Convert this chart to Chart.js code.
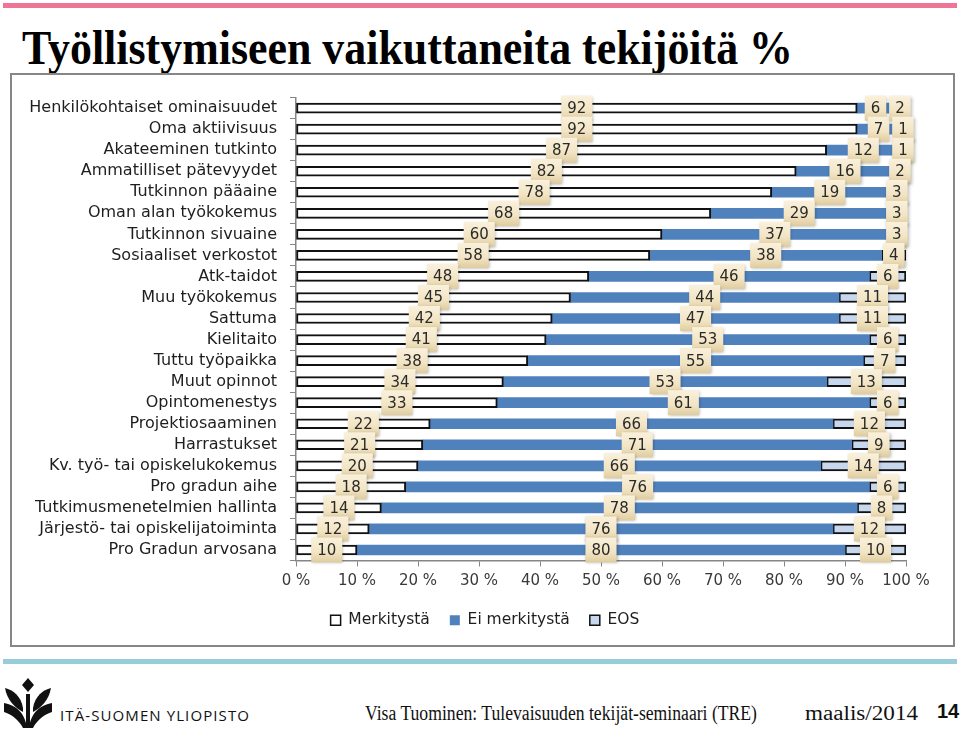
<!DOCTYPE html>
<html>
<head>
<meta charset="utf-8">
<script src="https://cdn.jsdelivr.net/npm/chart.js@4.4.0/dist/chart.umd.min.js"></script>
<style>
  html, body { margin: 0; padding: 0; background: #fff; }
  body { width: 960px; height: 730px; position: relative; overflow: hidden; }
  .abs { position: absolute; white-space: nowrap; line-height: 1; }
  #topline { left: 3px; top: 3px; width: 954px; height: 5px; background: #EE7595; }
  #title { left: 22px; top: 20px; font: bold 48px "Liberation Serif", serif; color: #000; transform-origin: 0 0; }
  #frame { left: 10px; top: 73px; width: 941px; height: 570px; border: 2px solid #868686; }
  #chartBox { left: 12px; top: 75px; width: 940px; height: 568px; }
  #bottomline { left: 3px; top: 659px; width: 954px; height: 5px; background: #97CDD7; }
  #uni { left: 60px; top: 705px; font: 15px "Open Sans", sans-serif; letter-spacing: 1.1px; color: #111; }
  #presenter { left: 365px; top: 702px; font: 20px "Liberation Serif", serif; color: #111; transform-origin: 0 0; }
  #date { left: 805px; top: 702px; font: 20px "Liberation Serif", serif; color: #111; transform-origin: 0 0; }
  #page { left: 937px; top: 700px; font: bold 20px "Liberation Sans Narrow", "Liberation Sans", sans-serif; color: #111; }
</style>
</head>
<body>
<div id="topline" class="abs"></div>
<div id="title" class="abs">Työllistymiseen vaikuttaneita tekijöitä %</div>
<div id="frame" class="abs"></div>
<div id="chartBox" class="abs"><canvas id="factorsChart" width="940" height="568"></canvas></div>
<div id="bottomline" class="abs"></div>
<svg class="abs" style="left:3px;top:678px" width="50" height="52" viewBox="0 0 50 52">
  <path d="M25 0 L31 7 L25 14 L19 7 Z" fill="#111"/>
  <path d="M2 10 C10 12 18 18 20 30 L20 34 C12 30 4 22 2 10 Z" fill="#111"/>
  <path d="M48 10 C40 12 32 18 30 30 L30 34 C38 30 46 22 48 10 Z" fill="#111"/>
  <path d="M1 25 C12 27 22 34 24 50 L20 50 C16 42 8 36 1 34 Z" fill="#111"/>
  <path d="M49 25 C38 27 28 34 26 50 L30 50 C34 42 42 36 49 34 Z" fill="#111"/>
  <path d="M23 16 L27 16 L27 50 L23 50 Z" fill="#111"/>
</svg>
<div id="uni" class="abs">ITÄ-SUOMEN YLIOPISTO</div>
<div id="presenter" class="abs">Visa Tuominen: Tulevaisuuden tekijät-seminaari (TRE)</div>
<div id="date" class="abs">maalis/2014</div>
<div id="page" class="abs">14</div>

<script>
// Työllistymiseen vaikuttaneita tekijöitä - 100 % stacked bar chart

const categories = [
  'Henkilökohtaiset ominaisuudet', 'Oma aktiivisuus', 'Akateeminen tutkinto',
  'Ammatilliset pätevyydet', 'Tutkinnon pääaine', 'Oman alan työkokemus',
  'Tutkinnon sivuaine', 'Sosiaaliset verkostot', 'Atk-taidot', 'Muu työkokemus',
  'Sattuma', 'Kielitaito', 'Tuttu työpaikka', 'Muut opinnot', 'Opintomenestys',
  'Projektiosaaminen', 'Harrastukset', 'Kv. työ- tai opiskelukokemus',
  'Pro gradun aihe', 'Tutkimusmenetelmien hallinta',
  'Järjestö- tai opiskelijatoiminta', 'Pro Gradun arvosana'
];
const merkitysta   = [92, 92, 87, 82, 78, 68, 60, 58, 48, 45, 42, 41, 38, 34, 33, 22, 21, 20, 18, 14, 12, 10];
const eiMerkitysta = [6, 7, 12, 16, 19, 29, 37, 38, 46, 44, 47, 53, 55, 53, 61, 66, 71, 66, 76, 78, 76, 80];
const eos          = [2, 1, 1, 2, 3, 3, 3, 4, 6, 11, 11, 6, 7, 13, 6, 12, 9, 14, 6, 8, 12, 10];
const seriesNames = ['Merkitystä', 'Ei merkitystä', 'EOS'];

const colors = {
  white: '#FFFFFF',
  blue: '#4F81BD',
  lightBlue: '#C7D8EE',
  border: '#111111',
  axis: '#868686',
  text: '#1E1E1E',
};
const chartFont = '"DejaVu Sans", sans-serif';

// 100 % stacked: each row is scaled to its own total
const rowTotals = categories.map((_, i) => merkitysta[i] + eiMerkitysta[i] + eos[i]);
const share = arr => arr.map((v, i) => v / rowTotals[i] * 100);

// Fit slide texts to the width they have on the slide
function squeeze(id, targetWidth) {
  const el = document.getElementById(id);
  const w = el.getBoundingClientRect().width;
  el.style.transform = 'scaleX(' + (targetWidth / w) + ')';
}
squeeze('title', 771);
squeeze('presenter', 392);
squeeze('date', 113);

// Beige value boxes in the middle of each segment
const valueBoxes = {
  id: 'valueBoxes',
  afterDatasetsDraw(chart) {
    const ctx = chart.ctx;
    const raw = [merkitysta, eiMerkitysta, eos];
    ctx.save();
    ctx.font = '15px ' + chartFont;
    ctx.textAlign = 'center';
    ctx.textBaseline = 'middle';
    chart.data.datasets.forEach((ds, di) => {
      const meta = chart.getDatasetMeta(di);
      meta.data.forEach((bar, i) => {
        const text = String(raw[di][i]);
        const cx = (bar.x + bar.base) / 2;
        const cy = bar.y;
        const w = ctx.measureText(text).width + 12;
        const h = 25;
        const x0 = cx - w / 2, y0 = cy - h / 2;
        const grad = ctx.createLinearGradient(0, y0, 0, y0 + h);
        grad.addColorStop(0, '#FAF1DC');
        grad.addColorStop(0.6, '#F2E4C3');
        grad.addColorStop(1, '#DFCC9F');
        ctx.shadowColor = 'rgba(0, 0, 0, 0.28)';
        ctx.shadowBlur = 3;
        ctx.shadowOffsetX = 1;
        ctx.shadowOffsetY = 1;
        ctx.fillStyle = grad;
        ctx.fillRect(x0, y0, w, h);
        ctx.shadowColor = 'transparent';
        ctx.fillStyle = '#2A2A2A';
        ctx.fillText(text, cx, cy + 1);
      });
    });
    ctx.restore();
  }
};

// The slide's legend sits a bit right of the canvas centre
const legendShift = {
  id: 'legendShift',
  afterLayout(chart) {
    chart.legend.left += 26;
    chart.legend.right += 26;
  }
};

function initFactorsChart() {
  const ctx = document.getElementById('factorsChart');

  new Chart(ctx, {
    type: 'bar',
    data: {
      labels: categories,
      datasets: [
        {
          label: seriesNames[0],
          data: share(merkitysta),
          backgroundColor: colors.white,
          borderColor: colors.border,
          borderWidth: 2,
          borderSkipped: false,
          barThickness: 10,
        },
        {
          label: seriesNames[1],
          data: share(eiMerkitysta),
          backgroundColor: colors.blue,
          borderWidth: 0,
          barThickness: 10,
        },
        {
          label: seriesNames[2],
          data: share(eos),
          backgroundColor: colors.lightBlue,
          borderColor: colors.border,
          borderWidth: 2,
          borderSkipped: false,
          barThickness: 10,
        }
      ]
    },
    options: {
      indexAxis: 'y',
      responsive: false,
      animation: false,
      layout: {
        padding: { left: 0, right: 46, top: 13, bottom: 5 }
      },
      plugins: {
        legend: {
          position: 'bottom',
          labels: {
            boxWidth: 10,
            boxHeight: 10,
            padding: 20,
            color: colors.text,
            font: { family: chartFont, size: 15.5 },
            generateLabels(chart) {
              const items = Chart.defaults.plugins.legend.labels.generateLabels(chart);
              items.forEach(it => { it.lineWidth = it.lineWidth ? 1.5 : 0; });
              return items;
            }
          }
        },
        tooltip: { enabled: false }
      },
      scales: {
        x: {
          stacked: true,
          min: 0,
          max: 100,
          ticks: {
            stepSize: 10,
            padding: 6,
            color: '#3A3A3A',
            font: { family: chartFont, size: 15 },
            callback: function(value) {
              return value + ' %';
            }
          },
          grid: {
            drawOnChartArea: false,
            drawTicks: true,
            tickLength: 6,
            color: colors.axis,
          },
          border: { color: colors.axis, width: 1.5 },
          afterFit(scale) { scale.height = 32; }
        },
        y: {
          stacked: true,
          ticks: {
            autoSkip: false,
            padding: 13,
            color: colors.text,
            font: { family: chartFont, size: 16 },
          },
          grid: {
            drawOnChartArea: false,
            drawTicks: true,
            tickLength: 6,
            color: colors.axis,
          },
          border: { color: colors.axis, width: 1.5 },
          afterFit(scale) { scale.width = 284; }
        }
      }
    },
    plugins: [valueBoxes, legendShift]
  });
}

initFactorsChart();
</script>
</body>
</html>
